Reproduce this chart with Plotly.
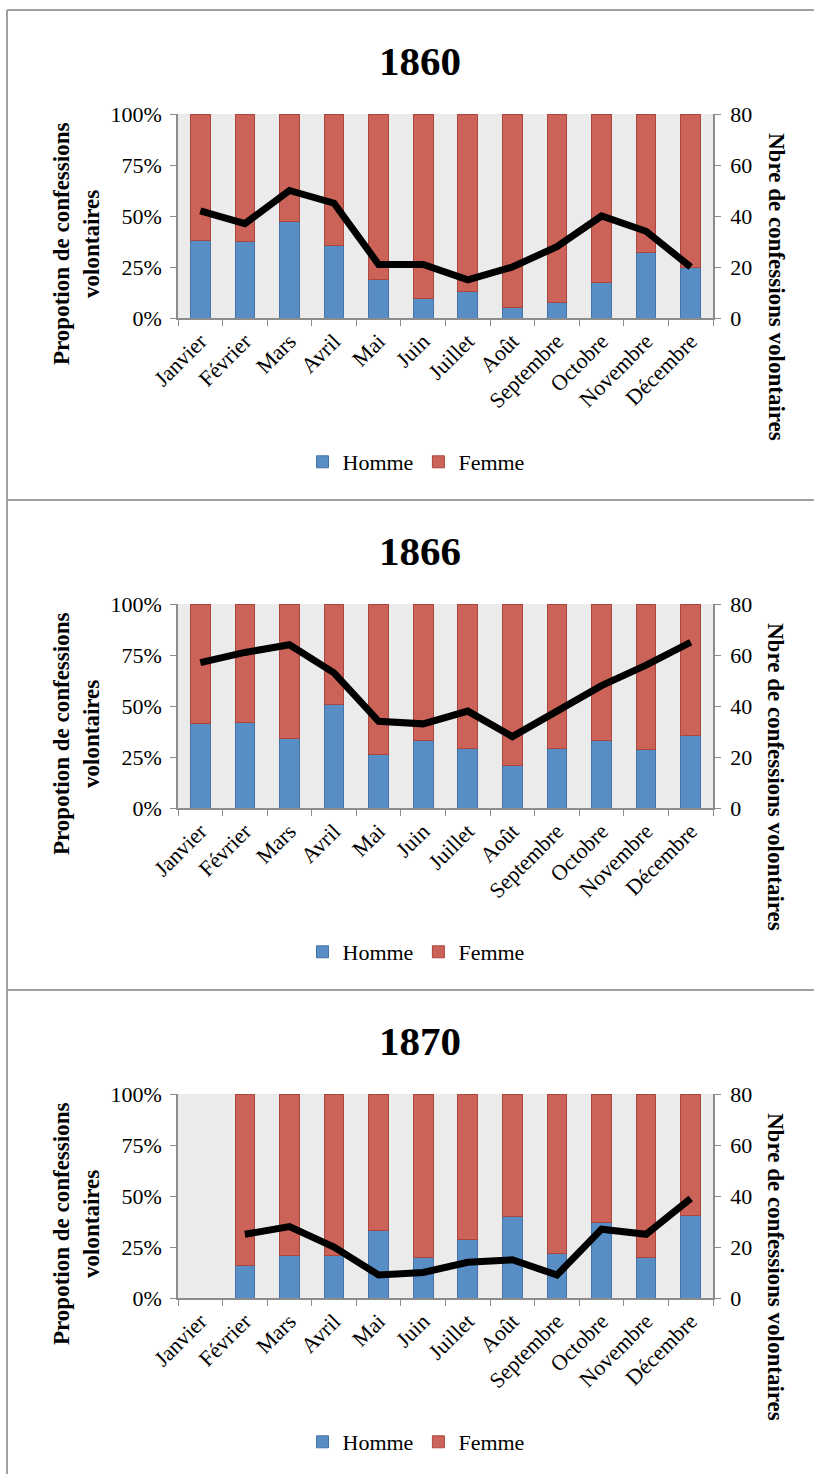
import plotly.graph_objects as go

# Données : part des hommes (%) et nombre total de confessions par mois
mois = ["Janvier", "Février", "Mars", "Avril", "Mai", "Juin", "Juillet",
        "Août", "Septembre", "Octobre", "Novembre", "Décembre"]

annees = ["1860", "1866", "1870"]

homme_1860 = [38, 37.5, 47.5, 35.5, 19, 9.5, 13, 5, 7.5, 17.5, 32, 25]
homme_1866 = [41.5, 42, 34, 50.5, 26, 33, 29, 21, 29, 33, 28.5, 35.5]
homme_1870 = [None, 16, 21, 21, 33, 20, 28.5, 40, 22, 37, 20, 40.5]

total_1860 = [42, 37, 50, 45, 21, 21, 15, 20, 28, 40, 34, 20]
total_1866 = [57, 61, 64, 53, 34, 33, 38, 28, 38, 48, 56, 65]
total_1870 = [None, 25, 28, 20, 9, 10, 14, 15, 9, 27, 25, 39]

pct_ticks = [0, 25, 50, 75, 100]
pct_labels = ["0%", "25%", "50%", "75%", "100%"]
nbre_ticks = [0, 20, 40, 60, 80]

hommes = [homme_1860, homme_1866, homme_1870]
totaux = [total_1860, total_1866, total_1870]

W, H = 814, 1474
PANEL_H = 490
PANEL_TOP = 10
SERIF = "Liberation Serif, Times New Roman, serif"
BLEU = "rgb(88,141,197)"
ROUGE = "rgb(204,99,89)"
GRIS_AXE = "rgb(140,140,140)"
GRIS_CADRE = "rgb(160,160,160)"
TXT = 22


def py(px):
    return 1 - px / H


def px_x(px):
    return px / W


fig = go.Figure()
layout = dict(
    width=W, height=H,
    autosize=False,
    margin=dict(l=0, r=0, t=0, b=0, pad=0, autoexpand=False),
    paper_bgcolor="white",
    plot_bgcolor="white",
    barmode="stack",
    bargap=0.56,
    font=dict(family=SERIF, size=TXT, color="black"),
    shapes=[], annotations=[],
)


def ligne(x0, y0, x1, y1):
    return dict(type="line", xref="paper", yref="paper", layer="below",
                x0=px_x(x0), x1=px_x(x1), y0=py(y0), y1=py(y1),
                line=dict(color=GRIS_CADRE, width=2))


for i, (annee, h, tot) in enumerate(zip(annees, hommes, totaux)):
    off = PANEL_TOP + i * PANEL_H
    plot_top = off + 104
    plot_bot = off + 308
    xa = f"x{i + 1}" if i else "x"
    ya_l = f"y{2 * i + 1}" if i else "y"
    ya_r = f"y{2 * i + 2}"
    leg = f"legend{i + 1}" if i else "legend"
    femme = [None if v is None else 100 - v for v in h]

    fig.add_trace(go.Bar(
        x=mois, y=h, name="Homme", xaxis=xa, yaxis=ya_l, legend=leg,
        marker=dict(color=BLEU, line=dict(color="rgb(70,115,165)", width=1)),
    ))
    fig.add_trace(go.Bar(
        x=mois, y=femme, name="Femme", xaxis=xa, yaxis=ya_l, legend=leg,
        marker=dict(color=ROUGE, line=dict(color="rgb(170,70,62)", width=1)),
    ))
    fig.add_trace(go.Scatter(
        x=mois, y=tot, mode="lines", xaxis=xa, yaxis=ya_r, showlegend=False,
        line=dict(color="black", width=7), connectgaps=False,
    ))

    xkey = "xaxis" + (str(i + 1) if i else "")
    ylkey = "yaxis" + (str(2 * i + 1) if i else "")
    yrkey = "yaxis" + str(2 * i + 2)
    dom_y = [py(plot_bot), py(plot_top)]

    layout[xkey] = dict(
        domain=[px_x(178), px_x(713)], anchor=ya_l, automargin=False,
        type="category", categoryorder="array", categoryarray=mois,
        tickangle=-45, tickson="boundaries", ticks="outside", ticklen=6,
        tickcolor=GRIS_AXE, showline=True, linecolor=GRIS_AXE, linewidth=1.5,
        showgrid=False, tickfont=dict(family=SERIF, size=TXT),
    )
    layout[ylkey] = dict(
        domain=dom_y, anchor=xa, range=[0, 100], tickvals=pct_ticks,
        ticktext=pct_labels, ticks="outside", ticklen=6, tickcolor=GRIS_AXE,
        showline=True, linecolor=GRIS_AXE, linewidth=1.5, showgrid=False,
        zeroline=False, automargin=False, ticklabelstandoff=4,
        tickfont=dict(family=SERIF, size=TXT),
    )
    layout[yrkey] = dict(
        domain=dom_y, anchor=xa, overlaying=ya_l, side="right",
        range=[0, 80], tickvals=nbre_ticks, ticks="outside", ticklen=6,
        tickcolor=GRIS_AXE, showline=True, linecolor=GRIS_AXE, linewidth=1.5,
        showgrid=False, zeroline=False, automargin=False, ticklabelstandoff=5,
        tickfont=dict(family=SERIF, size=TXT),
    )
    layout[leg] = dict(
        orientation="h", x=px_x(416), xanchor="center",
        y=py(off + 452), yanchor="middle", traceorder="normal",
        font=dict(family=SERIF, size=TXT, color="black"),
        bgcolor="rgba(0,0,0,0)", itemclick=False, tracegroupgap=0,
    )

    # zone grise derrière les barres
    layout["shapes"].append(dict(
        type="rect", xref="paper", yref="paper", layer="below",
        x0=px_x(178), x1=px_x(713), y0=py(plot_bot), y1=py(plot_top),
        fillcolor="rgb(235,235,235)", line=dict(width=0),
    ))
    # cadre du panneau (bord gauche et bord supérieur)
    layout["shapes"].append(ligne(7, off, 7, min(off + PANEL_H, H)))
    layout["shapes"].append(ligne(7, off, W, off))

    layout["annotations"] += [
        dict(text=f"<b>{annee}</b>", xref="paper", yref="paper",
             x=px_x(420), y=py(off + 51), xanchor="center", yanchor="middle",
             showarrow=False,
             font=dict(family=SERIF, size=41, color="black")),
        dict(text="<b>Propotion de confessions<br>volontaires</b>",
             xref="paper", yref="paper", x=px_x(76), y=py(off + 234),
             xanchor="center", yanchor="middle",
             textangle=-90, showarrow=False,
             font=dict(family=SERIF, size=23, color="black")),
        dict(text="<b>Nbre de confessions volontaires</b>",
             xref="paper", yref="paper", x=px_x(776), y=py(off + 277),
             xanchor="center", yanchor="middle",
             textangle=90, showarrow=False,
             font=dict(family=SERIF, size=23, color="black")),
    ]

fig.update_layout(**layout)
fig.write_html(
    "out.html",
    post_script="document.body.style.margin='0';"
                "document.body.style.overflow='hidden';",
)
